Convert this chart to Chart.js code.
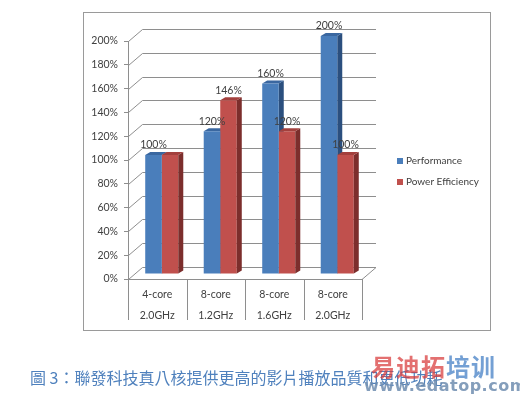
<!DOCTYPE html>
<html>
<head>
<meta charset="utf-8">
<script src="https://cdn.jsdelivr.net/npm/chart.js@4.4.1/dist/chart.umd.min.js"></script>
<style>
  html, body { margin: 0; padding: 0; background: #fff; }
  #wrap { position: relative; width: 520px; height: 396px; overflow: hidden; }
  #frame { position: absolute; left: 83px; top: 12px; width: 406px; height: 317px; border: 1px solid #9a9a9a; }
  #chart { position: absolute; left: 0; top: 0; }
  #caption { position: absolute; left: 30px; top: 366px; font: 16px "Noto Sans CJK TC"; color: #4f81bd; white-space: nowrap; line-height: 22px; }
  #mark1 { position: absolute; left: 371px; top: 352px; font: bold 24px "Noto Sans CJK SC"; white-space: nowrap; opacity: 0.72; letter-spacing: 1px; line-height: 28px; }
  #mark2 { position: absolute; left: 364px; top: 375px; font: bold 16px "DejaVu Sans"; color: #6f8db0; white-space: nowrap; opacity: 0.85; line-height: 22px; letter-spacing: 0.5px; }
</style>
</head>
<body>
<div id="wrap">
  <div id="frame"></div>
  <canvas id="chart" width="520" height="396"></canvas>
  <div id="caption">圖 3：聯發科技真八核提供更高的影片播放品質和更低功耗</div>
  <div id="mark1"><span style="color:#d83a3a">易迪拓</span><span style="color:#3f7cc4">培训</span></div>
  <div id="mark2">www.edatop.com</div>
</div>
<script>
// Categories (two-line labels) and series values, in percent
const categories = [
  ["4-core", "2.0GHz"],
  ["8-core", "1.2GHz"],
  ["8-core", "1.6GHz"],
  ["8-core", "2.0GHz"]
];
const seriesNames = ["Performance", "Power Efficiency"];
const performance = [100, 120, 160, 200];
const powerEfficiency = [100, 146, 120, 100];
// which value labels are printed above the bars
const performanceLabelShown = [true, true, true, true];
const efficiencyLabelShown = [false, true, true, true];
// value axis
const yMin = 0, yMax = 200, yStep = 20;

const FONT = "Lato";
const TEXT = "#404040";
const GRID = "#8e8e8e";

const palette = [
  { front: "#4a7ebb", top: "#3a67a0", side: "#2b4f7e" },
  { front: "#c0504d", top: "#a3403d", side: "#7c2e2c" }
];

const WALL = { dx: 14, dy: -12 };      // offset of the back wall
const SHIFT = { dx: 4.5, dy: -5 };     // bars sit part-way into the depth
const BAR_DEPTH = { dx: 5, dy: -3 };   // thickness of each bar

function drawFaces(ctx, el, colors) {
  const x1 = el.x - el.width / 2, x2 = el.x + el.width / 2;
  const yt = el.y, yb = el.base;
  // right side
  ctx.fillStyle = colors.side;
  ctx.beginPath();
  ctx.moveTo(x2, yt);
  ctx.lineTo(x2 + BAR_DEPTH.dx, yt + BAR_DEPTH.dy);
  ctx.lineTo(x2 + BAR_DEPTH.dx, yb + BAR_DEPTH.dy);
  ctx.lineTo(x2, yb);
  ctx.closePath();
  ctx.fill();
  // top
  ctx.fillStyle = colors.top;
  ctx.beginPath();
  ctx.moveTo(x1, yt);
  ctx.lineTo(x1 + BAR_DEPTH.dx, yt + BAR_DEPTH.dy);
  ctx.lineTo(x2 + BAR_DEPTH.dx, yt + BAR_DEPTH.dy);
  ctx.lineTo(x2, yt);
  ctx.closePath();
  ctx.fill();
}

const depthPlugin = {
  id: "depth",
  beforeDatasetsDraw(chart) {
    const { ctx, chartArea, scales } = chart;
    const y = scales.y, x = scales.x;
    ctx.save();
    ctx.strokeStyle = GRID;
    ctx.lineWidth = 1;
    // back wall gridlines with their diagonal links to the front axis
    y.ticks.forEach(t => {
      const py = Math.round(y.getPixelForValue(t.value)) + 0.5;
      const px = chartArea.left + 0.5;
      ctx.beginPath();
      ctx.moveTo(px, py);
      ctx.lineTo(px + WALL.dx, py + WALL.dy);
      ctx.lineTo(chartArea.right + WALL.dx, py + WALL.dy);
      if (t.value === yMin) ctx.lineTo(chartArea.right, py);
      ctx.stroke();
    });
    // category separators below the floor
    const n = categories.length;
    const bounds = [x.left];
    for (let i = 0; i < n - 1; i++) {
      bounds.push((x.getPixelForValue(i) + x.getPixelForValue(i + 1)) / 2);
    }
    bounds.push(x.right);
    bounds.forEach(b => {
      const bx = Math.round(b) + 0.5;
      ctx.beginPath();
      ctx.moveTo(bx, chartArea.bottom);
      ctx.lineTo(bx, chartArea.bottom + 41);
      ctx.stroke();
    });
    ctx.restore();

    // bars: shift into the depth, draw the back series' faces first
    ctx.save();
    ctx.translate(SHIFT.dx, SHIFT.dy);
    chart.getDatasetMeta(0).data.forEach(el => drawFaces(ctx, el, palette[0]));
  },
  afterDatasetsDraw(chart) {
    const { ctx } = chart;
    chart.getDatasetMeta(1).data.forEach(el => drawFaces(ctx, el, palette[1]));
    // value labels
    ctx.fillStyle = TEXT;
    ctx.font = "10.5px " + FONT;
    ctx.textAlign = "center";
    ctx.textBaseline = "middle";
    const shown = [performanceLabelShown, efficiencyLabelShown];
    chart.data.datasets.forEach((ds, di) => {
      chart.getDatasetMeta(di).data.forEach((el, i) => {
        if (!shown[di][i]) return;
        ctx.fillText(ds.data[i] + "%", el.x, el.y - 10);
      });
    });
    ctx.restore();
  },
  afterDraw(chart) {
    const { ctx } = chart;
    ctx.save();
    ctx.font = "10px " + FONT;
    ctx.textBaseline = "middle";
    ctx.textAlign = "left";
    chart.data.datasets.forEach((ds, i) => {
      const cy = 161 + i * 21;
      ctx.fillStyle = palette[i].front;
      ctx.fillRect(397, cy - 3, 6, 6);
      ctx.fillStyle = TEXT;
      ctx.fillText(ds.label, 406, cy);
    });
    ctx.restore();
  }
};

new Chart(document.getElementById("chart"), {
  type: "bar",
  data: {
    labels: categories,
    datasets: [
      { label: seriesNames[0], data: performance, backgroundColor: palette[0].front, clip: false },
      { label: seriesNames[1], data: powerEfficiency, backgroundColor: palette[1].front, clip: false }
    ]
  },
  options: {
    responsive: false,
    animation: false,
    events: [],
    layout: { padding: { left: 0, right: 158, top: 41, bottom: 0 } },
    datasets: { bar: { barPercentage: 1, categoryPercentage: 0.565 } },
    plugins: { legend: { display: false }, tooltip: { enabled: false } },
    scales: {
      x: {
        grid: { display: false },
        border: { display: true, color: GRID },
        ticks: { color: TEXT, font: { family: FONT, size: 10.5, lineHeight: 2 }, padding: -3, maxRotation: 0, autoSkip: false },
        afterFit(s) { s.height = 396 - 279; }
      },
      y: {
        min: yMin, max: yMax,
        ticks: { stepSize: yStep, callback: v => v + "%", color: TEXT, font: { family: FONT, size: 10.5 }, padding: 6 },
        grid: { drawOnChartArea: false, drawTicks: true, tickLength: 4, color: GRID },
        border: { display: true, color: GRID },
        afterFit(s) { s.width = 128; }
      }
    }
  },
  plugins: [depthPlugin]
});
</script>
</body>
</html>
